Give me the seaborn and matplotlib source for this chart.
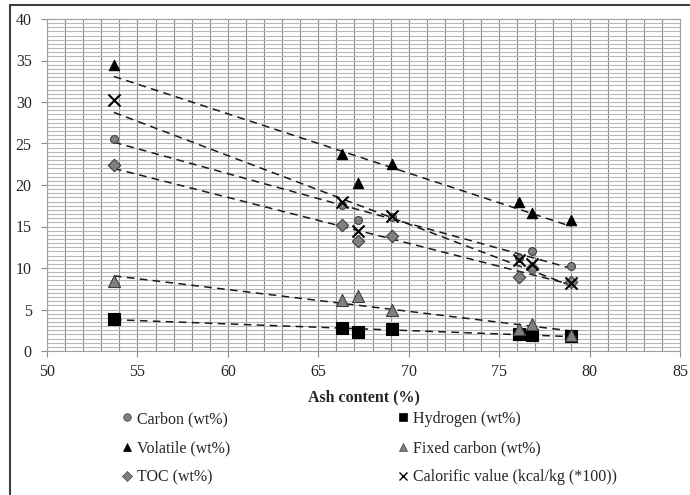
import matplotlib
matplotlib.use("Agg")
import matplotlib.pyplot as plt
import seaborn as sns
import numpy as np
import pandas as pd
from matplotlib.ticker import MultipleLocator
from matplotlib.lines import Line2D

# values
ash = [53.7, 66.3, 67.2, 69.1, 76.1, 76.8, 79.0]
carbon = [25.6, 17.6, 15.8, 16.2, 11.2, 12.0, 10.2]
hydrogen = [3.9, 2.8, 2.3, 2.6, 2.0, 1.9, 1.85]
volatile = [34.5, 23.7, 20.2, 22.5, 18.0, 16.6, 15.8]
fixed_carbon = [8.4, 6.2, 6.6, 4.9, 2.6, 3.3, 1.9]
toc = [22.4, 15.2, 13.2, 13.8, 8.9, 10.0, 8.3]
calorific = [30.2, 17.9, 14.4, 16.3, 11.0, 10.5, 8.2]

labels = ["Carbon (wt%)", "Hydrogen (wt%)", "Volatile (wt%)",
          "Fixed carbon (wt%)", "TOC (wt%)", "Calorific value (kcal/kg (*100))"]
series = [carbon, hydrogen, volatile, fixed_carbon, toc, calorific]

# marker styles per series
styles = [
    dict(marker="o", color="#808080", edgecolor="#404040", s=32, linewidth=0.8),
    dict(marker="s", color="black", edgecolor="black", s=65, linewidth=0.8),
    dict(marker="^", color="black", edgecolor="black", s=55, linewidth=0.8),
    dict(marker="^", color="#7f7f7f", edgecolor="#404040", s=75, linewidth=0.8),
    dict(marker="D", color="#808080", edgecolor="#404040", s=40, linewidth=0.8),
    dict(marker="x", color="black", s=75, linewidth=1.5),
]

FS = 11.5

sns.set_style("white")
plt.rcParams["font.family"] = ["Liberation Serif", "DejaVu Serif"]

fig = plt.figure(figsize=(6.9, 4.95), dpi=100)
ax = fig.add_axes([47 / 690, 1 - 351 / 495, 633 / 690, 332 / 495])

# grid behind everything
ax.set_axisbelow(True)
ax.xaxis.set_major_locator(MultipleLocator(5))
ax.xaxis.set_minor_locator(MultipleLocator(1))
ax.yaxis.set_major_locator(MultipleLocator(5))
ax.yaxis.set_minor_locator(MultipleLocator(0.5))
ax.grid(True, axis="x", which="both", color="#8c8c8c", linewidth=0.8)
ax.grid(True, axis="y", which="both", color="#b8b8b8", linewidth=0.8)

handles = []
for vals, lab, st in zip(series, labels, styles):
    df = pd.DataFrame({"ash": ash, "val": vals})
    sns.regplot(data=df, x="ash", y="val", ax=ax, scatter=False, ci=None,
                truncate=True,
                line_kws=dict(color="#1a1a1a", linestyle=(0, (5, 3.5)), linewidth=1.1))
    sns.scatterplot(data=df, x="ash", y="val", ax=ax, zorder=3, legend=False, **st)
    h = Line2D([], [], linestyle="none", marker=st["marker"],
               markerfacecolor=st["color"], markeredgecolor=st.get("edgecolor", st["color"]),
               color=st["color"], markersize=5.5, markeredgewidth=1.0 if st["marker"] == "x" else 0.5)
    handles.append(h)

ax.set_xlim(50, 85)
ax.set_ylim(0, 40)
ax.set_xlabel("Ash content (%)", fontsize=FS, fontweight="bold", labelpad=7)
ax.set_ylabel("")
ax.tick_params(axis="both", which="major", labelsize=FS, length=4, color="#8c8c8c",
               direction="out", bottom=True, left=True)
ax.tick_params(axis="x", which="major", pad=5)
ax.tick_params(axis="y", which="major", pad=7)
ax.tick_params(axis="both", which="minor", length=0)
for sp in ax.spines.values():
    sp.set_color("#a0a0a0")
    sp.set_linewidth(0.8)

# legend: two columns, three rows
kw = dict(frameon=False, fontsize=FS, handlelength=0.7, handletextpad=0.3,
          labelspacing=0.82, borderpad=0, borderaxespad=0)
leg1 = fig.legend([handles[0], handles[2], handles[4]], [labels[0], labels[2], labels[4]],
                  loc="upper left", bbox_to_anchor=(121 / 690, 1 - 411 / 495), **kw)
leg2 = fig.legend([handles[1], handles[3], handles[5]], [labels[1], labels[3], labels[5]],
                  loc="upper left", bbox_to_anchor=(397 / 690, 1 - 411 / 495), **kw)

# outer chart border (left and top visible)
fig.add_artist(Line2D([10 / 690, 10 / 690], [0, 1 - 5 / 495], transform=fig.transFigure,
                      color="#404040", linewidth=1.5))
fig.add_artist(Line2D([10 / 690, 1], [1 - 5 / 495, 1 - 5 / 495], transform=fig.transFigure,
                      color="#404040", linewidth=1.5))

fig.savefig("out.png", dpi=100)
